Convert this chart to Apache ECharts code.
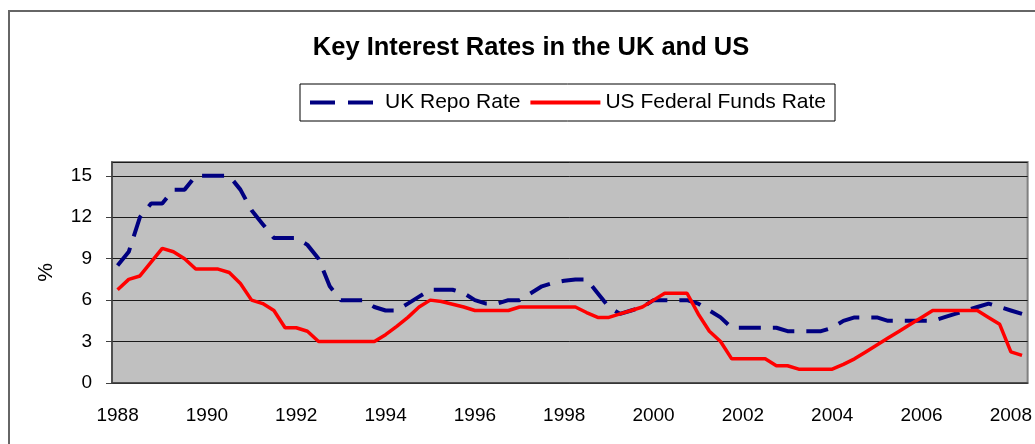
<!DOCTYPE html>
<html>
<head>
<meta charset="utf-8">
<script src="https://cdn.jsdelivr.net/npm/echarts@6/dist/echarts.min.js"></script>
<style>
  html, body { margin: 0; padding: 0; background: #fff; }
  #chart { width: 1035px; height: 444px; }
</style>
</head>
<body>
<div id="chart"></div>
<script>
// quarterly categories, 1988 Q1 .. 2008 Q2
const quarters = [];
for (let y = 1988; y <= 2008; y++) {
  for (let q = 1; q <= 4; q++) quarters.push(y + ' Q' + q);
}
quarters.length = 82;

const ukRepo = [
  8.5, 9.5, 12, 13, 13, 14, 14, 15, 15, 15,
  15, 14, 12.5, 11.5, 10.5, 10.5, 10.5, 10, 9, 7,
  6, 6, 6, 5.5, 5.25, 5.25, 5.75, 6.25, 6.75, 6.75,
  6.75, 6.5, 6, 5.75, 5.75, 6, 6, 6.5, 7, 7.25,
  7.4, 7.5, 7.5, 6.5, 5.5, 5, 5.25, 5.5, 6, 6,
  6, 6, 5.75, 5.25, 4.75, 4, 4, 4, 4, 4,
  3.75, 3.75, 3.75, 3.75, 4, 4.5, 4.75, 4.75, 4.75, 4.5,
  4.5, 4.5, 4.5, 4.5, 4.75, 5, 5.25, 5.5, 5.75, 5.5,
  5.25, 5
];

const usFedFunds = [
  6.75, 7.5, 7.75, 8.75, 9.75, 9.5, 9, 8.25, 8.25, 8.25,
  8, 7.2, 6, 5.75, 5.25, 4, 4, 3.75, 3, 3,
  3, 3, 3, 3, 3.5, 4.1, 4.75, 5.5, 6, 5.9,
  5.7, 5.5, 5.25, 5.25, 5.25, 5.25, 5.5, 5.5, 5.5, 5.5,
  5.5, 5.5, 5.1, 4.75, 4.75, 5, 5.25, 5.5, 6, 6.5,
  6.5, 6.5, 5, 3.75, 3, 1.75, 1.75, 1.75, 1.75, 1.25,
  1.25, 1, 1, 1, 1, 1.35, 1.75, 2.25, 2.75, 3.25,
  3.75, 4.25, 4.75, 5.25, 5.25, 5.25, 5.25, 5.25, 4.75, 4.25,
  2.25, 2
];

const font = 'Liberation Sans, Arial, sans-serif';
const chart = echarts.init(document.getElementById('chart'));

chart.setOption({
  animation: false,
  backgroundColor: '#fff',
  graphic: [{
    // outer frame of the chart area
    type: 'rect',
    shape: { x: 9, y: 11, width: 1200, height: 800 },
    style: { fill: 'none', stroke: '#666', lineWidth: 2 },
    silent: true
  }],
  title: {
    text: 'Key Interest Rates in the UK and US',
    left: 526,
    textAlign: 'center',
    top: 30,
    textStyle: { fontFamily: font, fontSize: 25.5, fontWeight: 'bold', color: '#000' }
  },
  legend: {
    left: 300,
    top: 84,
    itemWidth: 70,
    itemHeight: 12,
    itemGap: 8,
    padding: [8, 9, 8, 8],
    borderColor: '#000',
    borderWidth: 1,
    itemStyle: { opacity: 0 },
    lineStyle: { width: 4 },
    textStyle: { fontFamily: font, fontSize: 21, color: '#000' },
    data: [
      { name: 'UK Repo Rate', lineStyle: { width: 4, type: [25, 13] } },
      { name: 'US Federal Funds Rate' }
    ]
  },
  grid: {
    left: 112,
    top: 162,
    width: 916,
    height: 221,
    show: true,
    backgroundColor: '#c0c0c0',
    borderColor: '#808080',
    borderWidth: 2
  },
  xAxis: {
    type: 'category',
    data: quarters,
    boundaryGap: true,
    axisLine: { lineStyle: { color: '#404040', width: 1.5 } },
    axisTick: { interval: 3, length: 6, lineStyle: { color: '#404040' } },
    axisLabel: {
      interval: 7,
      margin: 23,
      fontFamily: font,
      fontSize: 19,
      color: '#000',
      formatter: v => v.slice(0, 4)
    },
    splitLine: { show: false }
  },
  yAxis: {
    type: 'value',
    min: 0,
    max: 16,
    interval: 3,
    name: '%',
    nameLocation: 'middle',
    nameGap: 55,
    nameTextStyle: { fontFamily: font, fontSize: 21, color: '#000' },
    axisLine: { show: true, lineStyle: { color: '#404040', width: 1.5 } },
    axisTick: { show: true, length: 6, lineStyle: { color: '#404040' } },
    axisLabel: { margin: 20, fontFamily: font, fontSize: 19, color: '#000', showMaxLabel: false },
    splitLine: { lineStyle: { color: '#1a1a1a', width: 1 } }
  },
  series: [
    {
      name: 'UK Repo Rate',
      type: 'line',
      data: ukRepo,
      symbol: 'none',
      lineStyle: { color: '#000080', width: 4, type: [22, 12], cap: 'butt' },
      itemStyle: { color: '#000080' }
    },
    {
      name: 'US Federal Funds Rate',
      type: 'line',
      data: usFedFunds,
      symbol: 'none',
      lineStyle: { color: '#ff0000', width: 3.5 },
      itemStyle: { color: '#ff0000' }
    }
  ]
});
</script>
</body>
</html>
